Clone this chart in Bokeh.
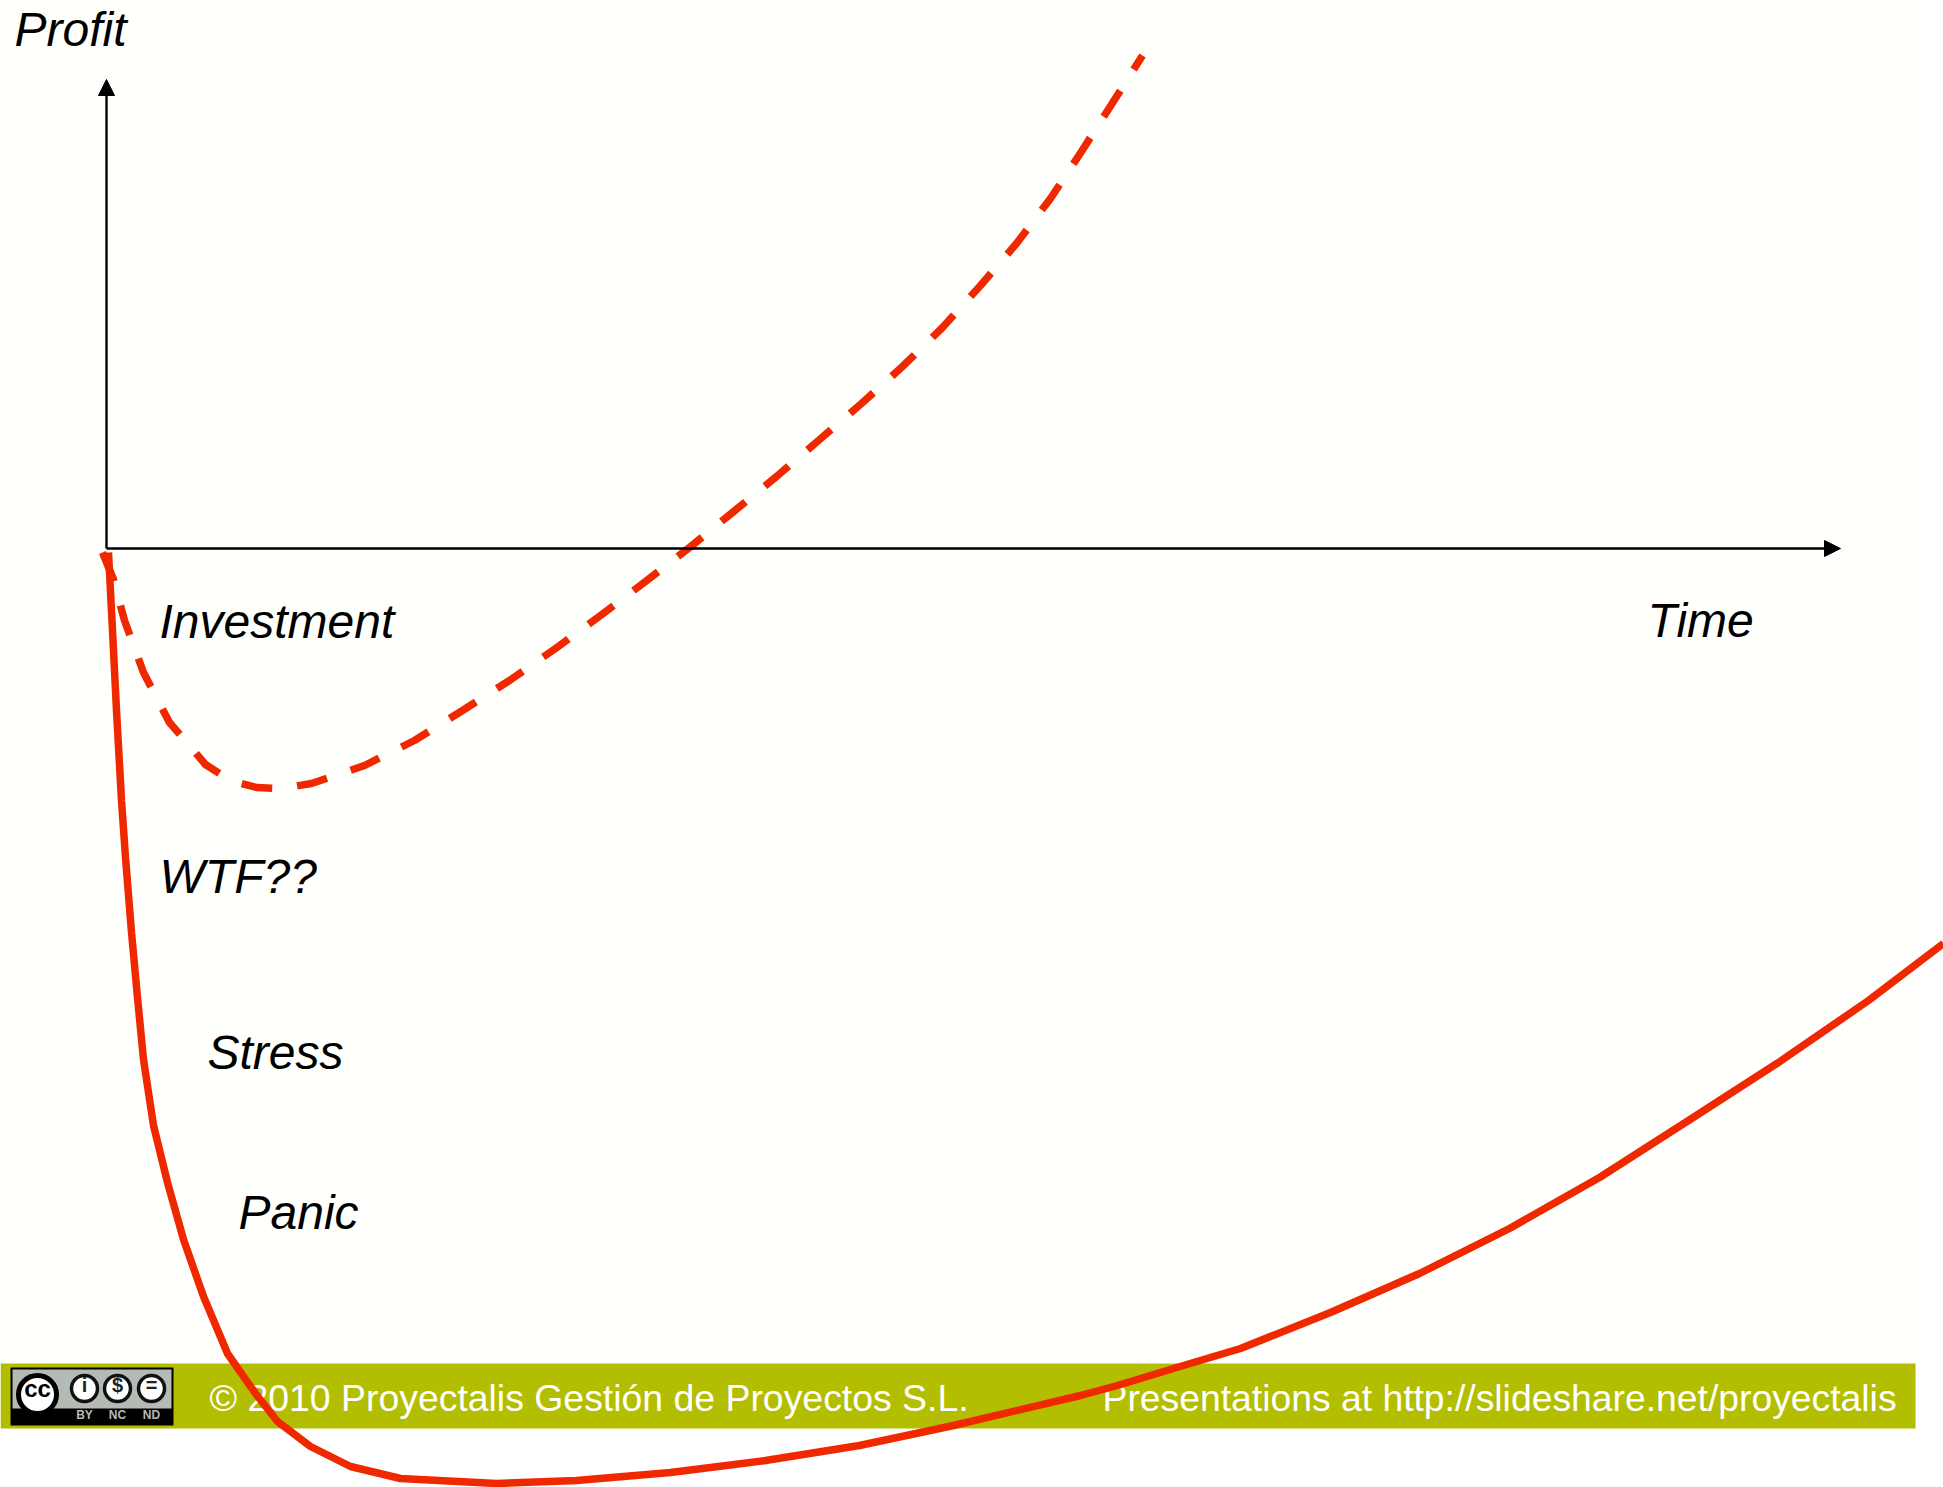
from bokeh.plotting import figure
from bokeh.models import Range1d, Arrow, NormalHead
from bokeh.core.properties import value
from bokeh.embed import file_html
from bokeh.resources import INLINE

# Values are in picture units, measured from the chart's origin (time to the right, profit upward).
expected_time = [-4, 7, 18, 37, 63, 99, 124, 150, 174, 205, 258, 308, 356, 403, 449, 494, 539, 583,
                 626, 670, 712, 755, 796, 836, 874, 910, 944, 975, 1005, 1036]
expected_profit = [-4, -31, -72, -124, -174, -216, -232, -239, -240, -235, -217, -192, -162, -132,
                   -100, -67, -33, 1, 36, 72, 108, 145, 182, 221, 263, 305, 350, 397, 444, 493]

actual_time = [2, 6, 10, 15, 19, 25, 31, 37, 47, 61, 77, 97, 121, 149, 171, 204, 244, 294, 390, 470,
               564, 659, 753, 847, 974, 1011, 1077, 1134, 1224, 1313, 1403, 1493, 1582, 1672, 1762, 1837]
actual_profit = [-4, -82, -162, -252, -309, -384, -449, -511, -577, -634, -691, -748, -805, -845, -873,
                 -898, -918, -930, -935, -932, -924, -912, -897, -877, -847, -837, -817, -800, -764,
                 -725, -680, -629, -572, -514, -452, -395]

labels = ["Profit", "Investment", "Time", "WTF??", "Stress", "Panic"]
label_time = [-92, 53, 1541, 53, 101, 132]
label_profit = [519, -73, -72, -328, -504, -664]

footer_left = "© 2010 Proyectalis Gestión de Proyectos S.L."
footer_right = "Presentations at http://slideshare.net/proyectalis"
licence_marks = ["BY", "NC", "ND"]

RED = "#F02800"
OLIVE = "#B4BE00"
PAPER = "#FFFFFC"
FONT = value("Liberation Sans")

W, H = 1943, 1487
OX, OY = 106, 548  # origin in picture pixels


def fx(px):
    return px - OX


def fy(py):
    return OY - py


p = figure(width=W, height=H, output_backend="svg", toolbar_location=None,
           x_range=Range1d(fx(0), fx(W)), y_range=Range1d(fy(H), fy(0)),
           min_border=0, outline_line_color=None, background_fill_color="#FFFFFF",
           border_fill_color="#FFFFFF")
p.axis.visible = False
p.grid.visible = False

# slide paper and footer band
p.quad(left=fx(0), right=fx(1915), top=fy(0), bottom=fy(1428), fill_color=PAPER, line_color=None)
p.quad(left=fx(0), right=fx(1915), top=fy(1363), bottom=fy(1428), fill_color=OLIVE, line_color=None)

# axes
head = dict(size=16, fill_color="black", line_color="black")
p.add_layout(Arrow(end=NormalHead(**head), x_start=0, y_start=0, x_end=0, y_end=fy(79),
                   line_color="black", line_width=2.4))
p.add_layout(Arrow(end=NormalHead(**head), x_start=0, y_start=0, x_end=fx(1840), y_end=0,
                   line_color="black", line_width=2.4))

# labels
p.text(x=label_time, y=label_profit, text=labels, text_font=FONT, text_font_style="italic",
       text_font_size="48px", text_color="black", text_baseline="alphabetic", text_align="left")

# footer text
p.text(x=[fx(209)], y=[fy(1397)], text=[footer_left], text_font=FONT, text_font_size="37.4px",
       text_color="#FFFFFF", text_baseline="alphabetic")
p.text(x=[fx(1102)], y=[fy(1397)], text=[footer_right], text_font=FONT, text_font_size="37.3px",
       text_color="#FFFFFF", text_baseline="alphabetic")

# licence badge
p.quad(left=fx(10), right=fx(173), top=fy(1367), bottom=fy(1425), fill_color="#000000", line_color=None)
p.quad(left=fx(12), right=fx(171), top=fy(1369), bottom=fy(1408), fill_color="#B4BAB4", line_color=None)
p.scatter(x=[fx(37)], y=[fy(1394)], size=38, marker="circle", fill_color="#FFFFFF",
          line_color="#000000", line_width=5)
p.text(x=[fx(37)], y=[fy(1388)], text=["cc"], text_font=FONT, text_font_style="bold",
       text_font_size="24px", text_color="#000000", text_align="center", text_baseline="middle")
mark_x = [fx(84), fx(117), fx(151)]
p.scatter(x=mark_x, y=[fy(1388)] * 3, size=26, marker="circle", fill_color="#FFFFFF",
          line_color="#111111", line_width=3.5)
p.text(x=mark_x, y=[fy(1384)] * 3, text=["i", "$", "="], text_font=FONT, text_font_style="bold",
       text_font_size="20px", text_color="#222222", text_align="center", text_baseline="middle")
p.text(x=mark_x, y=[fy(1414)] * 3, text=licence_marks, text_font=FONT, text_font_style="bold",
       text_font_size="12px", text_color="#B4BAB4", text_align="center", text_baseline="middle")

# curves
p.line(expected_time, expected_profit, line_color=RED, line_width=7.5, line_dash="31 25")
p.line(actual_time, actual_profit, line_color=RED, line_width=7.5)

html = file_html(p, INLINE)
open("out.html", "w").write(html)
